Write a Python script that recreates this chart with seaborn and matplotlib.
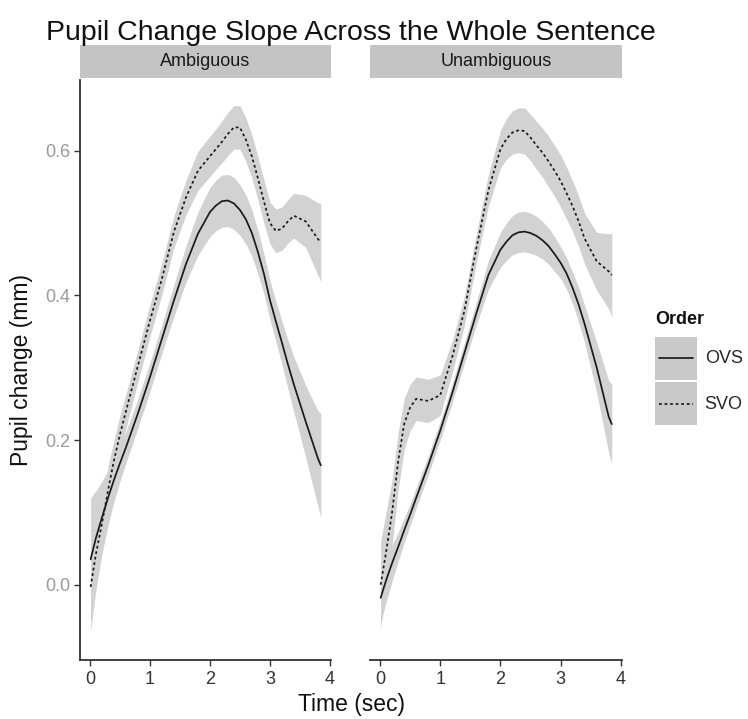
import matplotlib
matplotlib.use("Agg")
import matplotlib.pyplot as plt
from matplotlib.patches import Rectangle
from matplotlib.lines import Line2D
from matplotlib.ticker import FormatStrFormatter
import seaborn as sns
import pandas as pd

# time points (sec)
time = [0.01, 0.1, 0.2, 0.3, 0.4, 0.5, 0.6, 0.8, 1.0, 1.2, 1.4, 1.6, 1.8, 2.0,
        2.1, 2.2, 2.3, 2.4, 2.5, 2.6, 2.7, 2.8, 2.9, 3.0, 3.1, 3.2, 3.3, 3.4,
        3.6, 3.8, 3.85]

# Ambiguous panel
amb_ovs = [0.035, 0.065, 0.093, 0.12, 0.145, 0.168, 0.19, 0.237, 0.287, 0.34, 0.393,
           0.443, 0.485, 0.515, 0.524, 0.530, 0.531, 0.527, 0.518, 0.505, 0.486,
           0.46, 0.43, 0.394, 0.364, 0.335, 0.305, 0.277, 0.225, 0.175, 0.165]
amb_ovs_se = [0.085, 0.065, 0.05, 0.038, 0.03, 0.025, 0.022, 0.02, 0.02, 0.02, 0.022,
              0.025, 0.03, 0.034, 0.035, 0.036, 0.036, 0.036, 0.035, 0.034, 0.032,
              0.03, 0.028, 0.027, 0.028, 0.03, 0.034, 0.038, 0.05, 0.066, 0.072]
amb_svo = [-0.003, 0.043, 0.085, 0.13, 0.172, 0.208, 0.24, 0.303, 0.365, 0.423, 0.488,
           0.535, 0.572, 0.592, 0.602, 0.612, 0.623, 0.632, 0.632, 0.615, 0.592,
           0.562, 0.53, 0.50, 0.489, 0.492, 0.502, 0.51, 0.502, 0.478, 0.473]
amb_svo_se = [0.06, 0.05, 0.04, 0.033, 0.028, 0.026, 0.024, 0.022, 0.022, 0.022, 0.022,
              0.024, 0.027, 0.028, 0.028, 0.029, 0.03, 0.03, 0.03, 0.03, 0.03,
              0.03, 0.03, 0.029, 0.03, 0.03, 0.03, 0.031, 0.036, 0.05, 0.054]

# Unambiguous panel
unamb_ovs = [-0.018, 0.006, 0.03, 0.052, 0.075, 0.097, 0.12, 0.165, 0.213, 0.265, 0.32,
             0.375, 0.428, 0.463, 0.474, 0.483, 0.487, 0.488, 0.486, 0.482, 0.476,
             0.468, 0.457, 0.445, 0.43, 0.41, 0.387, 0.36, 0.30, 0.232, 0.222]
unamb_ovs_se = [0.035, 0.03, 0.025, 0.02, 0.017, 0.015, 0.014, 0.013, 0.013, 0.013, 0.014,
                0.016, 0.02, 0.024, 0.026, 0.027, 0.028, 0.028, 0.028, 0.027, 0.026,
                0.025, 0.024, 0.022, 0.022, 0.022, 0.024, 0.026, 0.035, 0.05, 0.055]
unamb_svo = [0.0, 0.045, 0.10, 0.17, 0.222, 0.245, 0.257, 0.254, 0.262, 0.315, 0.378,
             0.465, 0.545, 0.602, 0.616, 0.625, 0.628, 0.627, 0.618, 0.607, 0.597,
             0.585, 0.572, 0.558, 0.541, 0.523, 0.502, 0.478, 0.447, 0.433, 0.428]
unamb_svo_se = [0.06, 0.055, 0.045, 0.04, 0.035, 0.032, 0.03, 0.03, 0.028, 0.022, 0.02,
                0.02, 0.022, 0.026, 0.028, 0.03, 0.031, 0.032, 0.032, 0.033, 0.034,
                0.035, 0.035, 0.036, 0.036, 0.035, 0.035, 0.035, 0.04, 0.052, 0.058]

conditions = ["Ambiguous", "Unambiguous"]
orders = ["OVS", "SVO"]

series = {
    ("Ambiguous", "OVS"): (amb_ovs, amb_ovs_se),
    ("Ambiguous", "SVO"): (amb_svo, amb_svo_se),
    ("Unambiguous", "OVS"): (unamb_ovs, unamb_ovs_se),
    ("Unambiguous", "SVO"): (unamb_svo, unamb_svo_se),
}
rows = []
for (cond, order), (vals, ses) in series.items():
    for t, v, s in zip(time, vals, ses):
        rows.append({"condition": cond, "order": order, "time": t,
                     "change": v, "lo": v - s, "hi": v + s})
df = pd.DataFrame(rows)

sns.set_theme(style="ticks")
plt.rcParams["font.family"] = ["Liberation Sans", "DejaVu Sans"]

W, H = 748, 719
fig = plt.figure(figsize=(W / 100, H / 100), dpi=100)

panel_x = [(80, 331), (370, 622)]
top, bottom = 80, 660
strip_top = 45
ribbon_col = "#d2d2d2"
strip_col = "#c4c4c4"
line_col = "#1a1a1a"
dash = (1.6, 1.6)

for i, cond in enumerate(conditions):
    x0, x1 = panel_x[i]
    ax = fig.add_axes([x0 / W, 1 - bottom / H, (x1 - x0) / W, (bottom - top) / H])
    sub = df[df.condition == cond]
    for order in orders:
        s = sub[sub.order == order]
        ax.fill_between(s.time, s.lo, s.hi, color=ribbon_col, lw=0, zorder=1)
    sns.lineplot(data=sub, x="time", y="change", style="order", style_order=orders,
                 dashes={"OVS": "", "SVO": dash}, color=line_col, lw=1.25,
                 errorbar=None, legend=False, ax=ax, zorder=3)
    ax.set_xlim(-0.167, 4.02)
    ax.set_ylim(-0.104, 0.6975)
    ax.set_xticks([0, 1, 2, 3, 4])
    ax.set_yticks([0.0, 0.2, 0.4, 0.6])
    ax.yaxis.set_major_formatter(FormatStrFormatter("%.1f"))
    ax.set_xlabel("")
    ax.set_ylabel("")
    ax.set_facecolor("white")
    ax.tick_params(axis="x", labelsize=13, colors="#333333", length=4, width=1.0,
                   pad=4)
    ax.tick_params(axis="y", labelsize=13, labelcolor="#9a9a9a", color="#333333",
                   length=4, width=1.0, pad=3)
    for sp in ["top", "right"]:
        ax.spines[sp].set_visible(False)
    ax.spines["bottom"].set_color("#333333")
    ax.spines["bottom"].set_linewidth(1.3)
    if i == 0:
        ax.spines["left"].set_color("#333333")
        ax.spines["left"].set_linewidth(1.3)
    else:
        ax.spines["left"].set_visible(False)
        ax.tick_params(axis="y", left=False, labelleft=False)

    # facet strip
    sax = fig.add_axes([x0 / W, 1 - (top - 2) / H, (x1 - x0) / W, (top - 2 - strip_top) / H])
    sax.set_facecolor(strip_col)
    sax.set_xticks([])
    sax.set_yticks([])
    for sp in sax.spines.values():
        sp.set_visible(False)
    sax.text(0.5, 0.5, cond, ha="center", va="center", fontsize=13, color="#1a1a1a",
             transform=sax.transAxes)

fig.text(351 / W, 1 - 40 / H, "Pupil Change Slope Across the Whole Sentence",
         ha="center", va="baseline", fontsize=20.5, color="#111111")
fig.text(352 / W, 1 - 705 / H, "Time (sec)", ha="center", va="center", fontsize=16.5,
         color="#111111")
fig.text(22 / W, 1 - 370 / H, "Pupil change (mm)", ha="center", va="center",
         rotation=90, fontsize=16.5, color="#111111")


# legend key: grey box with the line centred in it
class KeyHandler:
    def __init__(self, dashes=None):
        self.dashes = dashes

    def legend_artist(self, legend, orig_handle, fontsize, handlebox):
        x0, y0 = -handlebox.xdescent, -handlebox.ydescent
        w, h = handlebox.width, handlebox.height
        rect = Rectangle((x0, y0), w, h, facecolor="#c9c9c9", edgecolor="none",
                         transform=handlebox.get_transform())
        pad = w * 0.1
        ln = Line2D([x0 + pad, x0 + w - pad], [y0 + h / 2] * 2, color=line_col, lw=1.25,
                    transform=handlebox.get_transform())
        if self.dashes:
            ln.set_dashes(self.dashes)
        handlebox.add_artist(rect)
        handlebox.add_artist(ln)
        return rect


key_ovs = Line2D([], [], color=line_col)
key_svo = Line2D([], [], color=line_col, dashes=dash)
fig.text(655 / W, 1 - 320 / H, "Order", ha="left", va="center", fontsize=13,
         fontweight="bold", color="#111111")
fig.legend([key_ovs, key_svo], orders, loc="upper left",
           bbox_to_anchor=(655 / W, 1 - 337 / H), frameon=False, fontsize=13,
           handler_map={key_ovs: KeyHandler(), key_svo: KeyHandler(dash)},
           handlelength=2.35, handleheight=3.25, labelspacing=0.15,
           handletextpad=0.4, borderpad=0, borderaxespad=0)

fig.savefig("out.png", dpi=100)
